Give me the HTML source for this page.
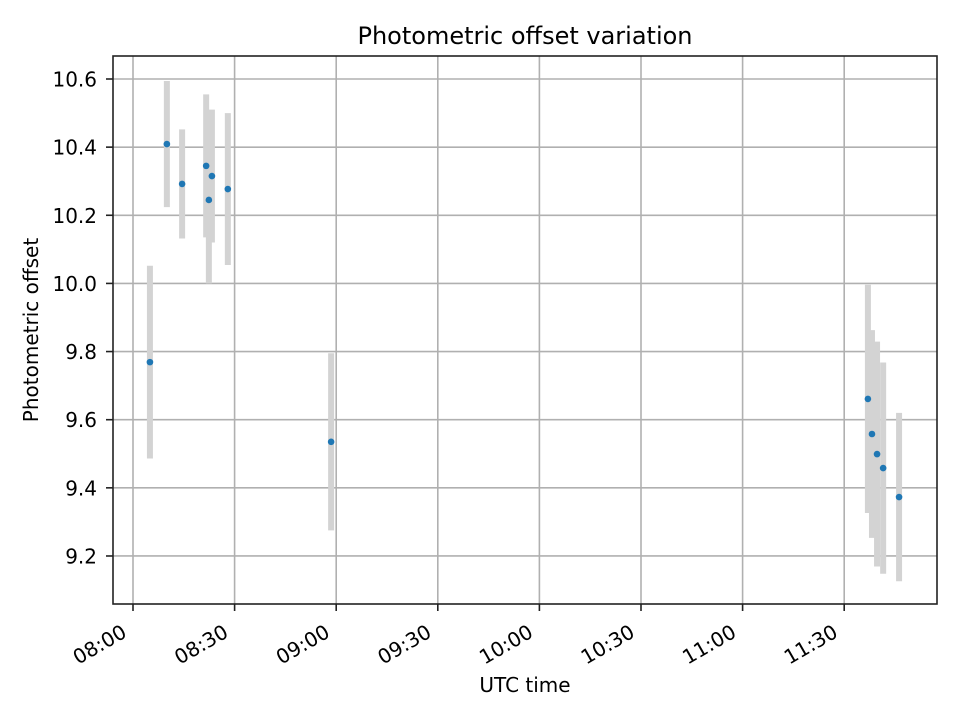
<!DOCTYPE html>
<html><head><meta charset="utf-8"><style>
body{margin:0;background:#fff;font-family:"DejaVu Sans","Liberation Sans",sans-serif;}
</style></head><body>
<svg id="chart" width="960" height="720" xmlns="http://www.w3.org/2000/svg" font-family="DejaVu Sans, Liberation Sans, sans-serif">
<rect width="960" height="720" fill="#fff"/>
<g id="grid"></g>
<g id="bars"></g>
<g id="pts"></g>
<rect x="113" y="56" width="824" height="548" fill="none" stroke="#222" stroke-width="1.6"/>
<g id="axes"></g>
<text x="525" y="44" text-anchor="middle" font-size="24">Photometric offset variation</text>
<text x="525" y="692" text-anchor="middle" font-size="20">UTC time</text>
<text transform="translate(38,330) rotate(-90)" text-anchor="middle" font-size="20">Photometric offset</text>
</svg>
<script>
// minutes after 08:00
const times=[5.0,10.0,14.5,21.6,22.4,23.3,28.0,58.5,217.0,218.2,219.7,221.5,226.2];
const offsets=[9.769,10.409,10.292,10.345,10.245,10.315,10.277,9.535,9.661,9.558,9.499,9.458,9.373];
const errors=[0.283,0.185,0.16,0.21,0.245,0.195,0.223,0.26,0.335,0.305,0.33,0.31,0.247];
const xTickLabels=["08:00","08:30","09:00","09:30","10:00","10:30","11:00","11:30"];
const xTickMinutes=[0,30,60,90,120,150,180,210];
const yTicks=[9.2,9.4,9.6,9.8,10.0,10.2,10.4,10.6];
const NS="http://www.w3.org/2000/svg";
const X=m=>133+m*101.6/30;
const Y=v=>79+(10.6-v)*340.7;
function mk(tag,attrs,parent,txt){const e=document.createElementNS(NS,tag);for(const k in attrs)e.setAttribute(k,attrs[k]);if(txt!==undefined)e.textContent=txt;parent.appendChild(e);return e;}
const grid=document.getElementById('grid'),axes=document.getElementById('axes');
xTickMinutes.forEach((m,i)=>{
 const x=X(m);
 const g=mk('line',{x1:x,x2:x,y1:56,y2:604,stroke:'#b0b0b0','stroke-width':1.6},grid);
 
 const t=mk('line',{x1:x,x2:x,y1:604,y2:611,stroke:'#222','stroke-width':1.6},axes);
 
 const lx=x-5, ly=636;
 const l=mk('text',{x:lx,y:ly,'text-anchor':'end','font-size':20,transform:`rotate(-30 ${lx} ${ly})`},axes,xTickLabels[i]);
 
});
yTicks.forEach(v=>{
 const y=Y(v);
 const g=mk('line',{x1:113,x2:937,y1:y,y2:y,stroke:'#b0b0b0','stroke-width':1.6},grid);
 
 const t=mk('line',{x1:106,x2:113,y1:y,y2:y,stroke:'#222','stroke-width':1.6},axes);
 
 const l=mk('text',{x:97,y:y+7.5,'text-anchor':'end','font-size':20},axes,v.toFixed(1));
 
});
const bars=document.getElementById('bars'),pts=document.getElementById('pts');
times.forEach((m,i)=>{
 const x=X(m);
 const b=mk('line',{x1:x,x2:x,y1:Y(offsets[i]+errors[i]),y2:Y(offsets[i]-errors[i]),stroke:'#d3d3d3','stroke-width':6},bars);
 
 const c=mk('circle',{cx:x,cy:Y(offsets[i]),r:3.3,fill:'#1f77b4'},pts);
 
});
</script>
</body></html>
